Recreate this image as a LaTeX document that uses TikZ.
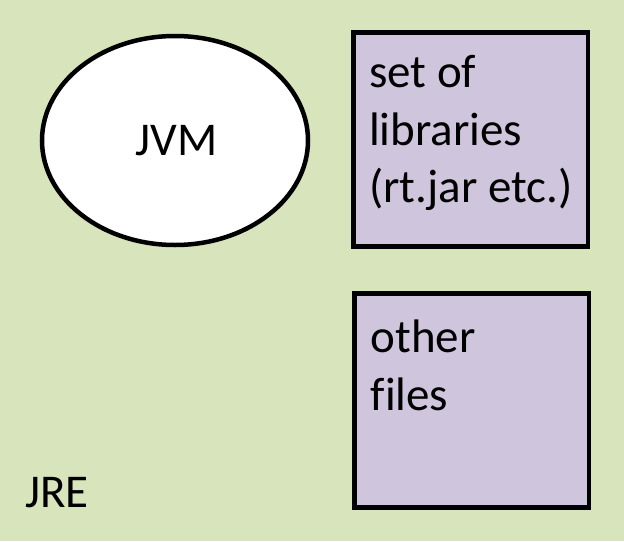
\documentclass[tikz,border=0pt]{standalone}
\usepackage{fontspec}
\setmainfont{Carlito}[Ligatures=NoCommon]
\usetikzlibrary{shapes.geometric}
\definecolor{bggreen}{HTML}{D8E4BC}
\definecolor{boxlilac}{HTML}{CFC5DD}
\begin{document}
\begin{tikzpicture}[x=1pt,y=-1pt,
  shapeline/.style={draw=black,line width=4.5pt},
  libbox/.style={shapeline,fill=boxlilac,rectangle,inner sep=0pt},
  txt/.style={anchor=base west,inner sep=0pt,font=\fontsize{47}{57.5}\selectfont}]
\fill[bggreen] (0,0) rectangle (624,541);
\useasboundingbox (0,0) rectangle (624,541);
\node[shapeline,fill=white,ellipse,minimum width=266pt,minimum height=209pt,inner sep=0pt] (jvm) at (175,140.5) {};
\node[txt,anchor=base] (jvmt) at (176.7,155) {JVM};
\node[libbox,minimum width=234.5pt,minimum height=214pt] (lib) at (470.75,139.5) {};
\node[libbox,minimum width=234.5pt,minimum height=214pt] (oth) at (471.75,400.5) {};
\node[txt] (libt1) at (369,87.7) {set of};
\node[txt] (libt2) at (369,145.2) {libraries};
\node[txt] (libt3) at (369,202.7) {(rt.jar etc.)};
\node[txt] (otht1) at (370.5,352.7) {other};
\node[txt] (otht2) at (370.5,410.8) {files};
\node[txt] (jre) at (25,507.7) {JRE};
\end{tikzpicture}
\end{document}
